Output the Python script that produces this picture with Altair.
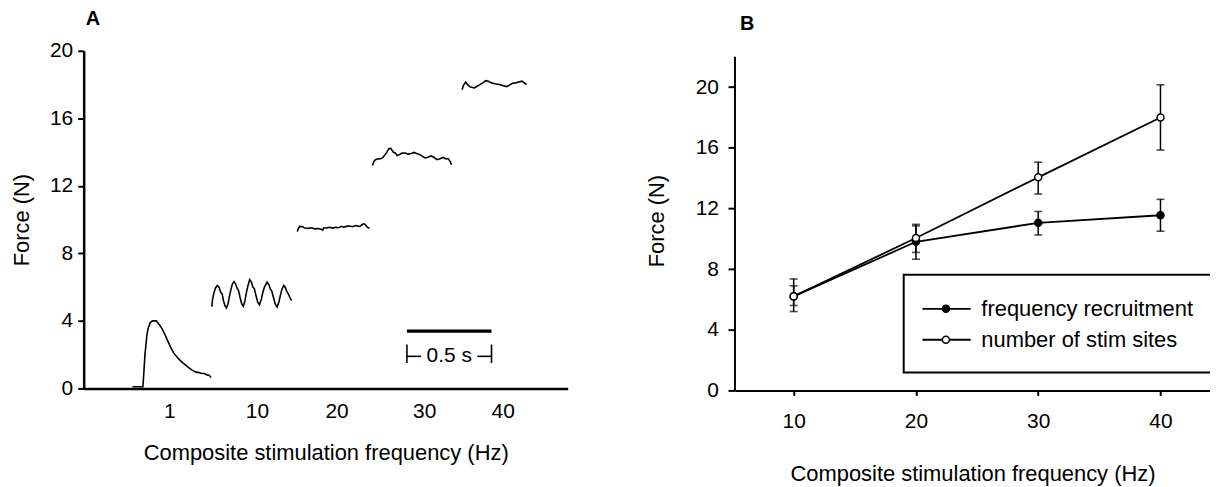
import json
import altair as alt
import pandas as pd

FONT = "Liberation Sans, Arial, Helvetica, sans-serif"

# ---------------- Panel A: force traces (time in s, force in N) ----------------
trace_names = ["1 Hz", "10 Hz", "20 Hz", "30 Hz", "40 Hz"]

t_1 = [0.288, 0.350, 0.356, 0.362, 0.368, 0.374, 0.382, 0.394, 0.406, 0.429,
       0.441, 0.453, 0.465, 0.482, 0.497, 0.518, 0.535, 0.553, 0.571, 0.588,
       0.606, 0.624, 0.641, 0.659, 0.676, 0.694, 0.712, 0.729, 0.741, 0.753]
f_1 = [0.1, 0.1, 1.0, 2.0, 2.6, 3.2, 3.6, 3.9, 4.0, 4.0,
       3.85, 3.7, 3.5, 3.15, 2.8, 2.35, 2.05, 1.85, 1.65, 1.5,
       1.35, 1.2, 1.08, 0.98, 0.95, 0.9, 0.88, 0.8, 0.78, 0.65]

t_10 = [0.757, 0.762, 0.771, 0.779, 0.790, 0.800, 0.809, 0.818, 0.826, 0.835,
        0.843, 0.853, 0.862, 0.871, 0.879, 0.888, 0.897, 0.906, 0.915, 0.924,
        0.934, 0.943, 0.953, 0.962, 0.971, 0.981, 0.991, 1.000, 1.009, 1.018,
        1.029, 1.039, 1.050, 1.059, 1.068, 1.084, 1.094, 1.103, 1.112, 1.121,
        1.132, 1.143, 1.153, 1.162, 1.171, 1.182, 1.191, 1.200, 1.209, 1.218,
        1.228]
f_10 = [4.84, 5.3, 5.7, 5.95, 6.1, 6.0, 5.7, 5.6, 5.2, 4.9,
        4.76, 5.0, 5.5, 5.9, 6.2, 6.33, 6.2, 5.95, 5.8, 5.4,
        5.0, 4.86, 5.2, 5.7, 6.1, 6.45, 6.3, 6.0, 5.9, 5.5,
        5.1, 4.96, 5.3, 5.7, 6.0, 6.3, 6.15, 5.9, 5.75, 5.4,
        5.0, 4.82, 5.1, 5.5, 5.85, 6.1, 6.0, 5.75, 5.6, 5.4,
        5.2]

t_20 = [1.262, 1.268, 1.276, 1.294, 1.306, 1.329, 1.347, 1.365, 1.382, 1.400,
        1.412, 1.418, 1.435, 1.453, 1.471, 1.488, 1.506, 1.524, 1.535, 1.553,
        1.571, 1.588, 1.606, 1.624, 1.635, 1.647, 1.659, 1.668, 1.676, 1.689]
f_20 = [9.3, 9.45, 9.6, 9.58, 9.5, 9.48, 9.52, 9.45, 9.47, 9.44,
        9.38, 9.5, 9.5, 9.55, 9.5, 9.55, 9.52, 9.6, 9.55, 9.6,
        9.62, 9.58, 9.65, 9.6, 9.62, 9.72, 9.75, 9.65, 9.55, 9.48]

t_30 = [1.706, 1.715, 1.724, 1.741, 1.759, 1.774, 1.791, 1.803, 1.815, 1.829,
        1.841, 1.853, 1.865, 1.882, 1.900, 1.918, 1.935, 1.953, 1.971, 1.988,
        2.006, 2.018, 2.035, 2.053, 2.071, 2.088, 2.106, 2.124, 2.141, 2.153,
        2.165, 2.174]
f_30 = [13.2, 13.45, 13.55, 13.6, 13.62, 13.75, 13.98, 14.2, 14.22, 14.0,
        13.95, 13.8, 13.85, 13.95, 13.95, 13.88, 13.92, 13.98, 13.9, 13.85,
        13.72, 13.65, 13.7, 13.78, 13.68, 13.55, 13.6, 13.68, 13.6, 13.62,
        13.45, 13.25]

t_40 = [2.236, 2.244, 2.257, 2.268, 2.286, 2.309, 2.324, 2.342, 2.359, 2.376,
        2.391, 2.410, 2.429, 2.455, 2.476, 2.500, 2.518, 2.534, 2.553, 2.571,
        2.590, 2.603, 2.617]
f_40 = [17.7, 17.95, 18.15, 18.0, 17.85, 17.8, 17.9, 18.0, 18.1, 18.23,
        18.2, 18.1, 18.05, 18.0, 17.95, 17.88, 17.98, 18.08, 18.1, 18.15,
        18.2, 18.1, 17.99]

a_tick_pos = [0.506, 1.024, 1.494, 2.012, 2.476]
a_tick_lab = ["1", "10", "20", "30", "40"]
a_y_ticks = [0, 4, 8, 12, 16, 20]

# scale bar (0.5 s)
bar_start = 1.910
bar_len = 0.5
bar_force = 3.4
bar_label = "0.5 s"
brk_force = 1.9
brk_lo = 1.5
brk_hi = 2.6
brk_arm = 0.084

# ---------------- Panel B: mean force vs frequency ----------------
b_freq = [10, 20, 30, 40]
series = ["frequency recruitment", "number of stim sites"]
rec_mean = [6.2, 9.8, 11.05, 11.55]
rec_lo = [5.6, 8.65, 10.25, 10.5]
rec_hi = [6.9, 10.85, 11.8, 12.6]
site_mean = [6.2, 10.05, 14.05, 18.0]
site_lo = [5.2, 9.1, 12.95, 15.85]
site_hi = [7.35, 10.95, 15.05, 20.15]
b_y_ticks = [0, 4, 8, 12, 16, 20]
b_y_axis_top = 22            # the drawn y-axis line ends here
b_x_min, b_x_max = 5.2, 44.05
b_y_view_max = 22.394        # view extends a little above the axis line

# legend layout (in panel-B data units)
leg_box = dict(x0=19.0, x1=60.0, y0=1.18, y1=7.63)
leg_rows = [5.38, 3.34]
leg_line = (20.53, 24.48)
leg_mark = 22.45
leg_text = 25.35

# ---------------- build tables ----------------
rows = []
for name, ts, fs in zip(trace_names, [t_1, t_10, t_20, t_30, t_40],
                        [f_1, f_10, f_20, f_30, f_40]):
    for t, f in zip(ts, fs):
        rows.append({"trace": name, "t": t, "F": f})
df_a = pd.DataFrame(rows)

df_bar = pd.DataFrame([{"t0": bar_start, "t1": bar_start + bar_len, "F": bar_force}])
df_brk_v = pd.DataFrame([{"t": bar_start, "lo": brk_lo, "hi": brk_hi},
                         {"t": bar_start + bar_len, "lo": brk_lo, "hi": brk_hi}])
df_brk_h = pd.DataFrame([{"t0": bar_start, "t1": bar_start + brk_arm, "F": brk_force},
                         {"t0": bar_start + bar_len - brk_arm, "t1": bar_start + bar_len, "F": brk_force}])
df_brk_t = pd.DataFrame([{"t": bar_start + bar_len / 2, "F": brk_force, "label": bar_label}])

brows = []
for s, m, lo, hi in [(series[0], rec_mean, rec_lo, rec_hi), (series[1], site_mean, site_lo, site_hi)]:
    for x, a, b, c in zip(b_freq, m, lo, hi):
        brows.append({"series": s, "freq": x, "force": a, "lo": b, "hi": c})
df_b = pd.DataFrame(brows)

df_leg = pd.DataFrame([{"series": s, "ly": y, "lx0": leg_line[0], "lx1": leg_line[1],
                        "mx": leg_mark, "tx": leg_text} for s, y in zip(series, leg_rows)])
df_box = pd.DataFrame([leg_box])
df_yline = pd.DataFrame([{"x": b_x_min, "y0": 0, "y1": b_y_axis_top}])

# ---------------- Panel A chart ----------------
label_expr = "{}[indexof({}, datum.value)]".format(json.dumps(a_tick_lab), json.dumps(a_tick_pos))
a_xscale = alt.Scale(domain=[0, 2.86], nice=False, zero=False)
a_yscale = alt.Scale(domain=[0, 20], nice=False)
a_xaxis = alt.Axis(values=a_tick_pos, labelExpr=label_expr, ticks=False, tickSize=0,
                   labelPadding=12, labelFontSize=21, labelOverlap=False, labelFlush=False,
                   title="Composite stimulation frequency (Hz)", titleFontSize=22, titlePadding=21.5,
                   domainWidth=2.5, domainColor="black")
a_yaxis = alt.Axis(values=a_y_ticks, tickSize=6, tickWidth=2, tickColor="black",
                   labelPadding=5, labelFontSize=21, title="Force (N)", titleFontSize=22,
                   titlePadding=15.6, domainWidth=2.5, domainColor="black")

def ax(field):
    return alt.X(field, type="quantitative", scale=a_xscale, axis=a_xaxis)

def ay(field):
    return alt.Y(field, type="quantitative", scale=a_yscale, axis=a_yaxis)

traces = alt.Chart(df_a).mark_line(color="black", strokeWidth=1.6).encode(
    x=ax("t"), y=ay("F"), detail="trace:N", order="t:Q")
bar = alt.Chart(df_bar).mark_rule(color="black", strokeWidth=3.3).encode(
    x=ax("t0"), x2="t1", y=ay("F"))
brk_v = alt.Chart(df_brk_v).mark_rule(color="black", strokeWidth=1.6).encode(
    x=ax("t"), y=ay("lo"), y2="hi")
brk_h = alt.Chart(df_brk_h).mark_rule(color="black", strokeWidth=1.6).encode(
    x=ax("t0"), x2="t1", y=ay("F"))
brk_t = alt.Chart(df_brk_t).mark_text(font=FONT, fontSize=21, color="black",
                                      align="center", baseline="middle").encode(
    x=ax("t"), y=ay("F"), text="label:N")

panel_a = alt.layer(traces, bar, brk_v, brk_h, brk_t).properties(
    width=486, height=339,
    title=alt.TitleParams("A", anchor="start", frame="group", dx=2, offset=11,
                          fontSize=20, fontWeight="bold", font=FONT, color="black"))

# ---------------- Panel B chart ----------------
b_xscale = alt.Scale(domain=[b_x_min, b_x_max], nice=False, zero=False)
b_yscale = alt.Scale(domain=[0, b_y_view_max], nice=False)
b_xaxis = alt.Axis(values=b_freq, tickSize=5, tickWidth=2, tickColor="black",
                   labelPadding=15.7, labelFontSize=21, labelFlush=False,
                   title="Composite stimulation frequency (Hz)", titleFontSize=22, titlePadding=32,
                   domainWidth=2, domainColor="black")
b_yaxis = alt.Axis(values=b_y_ticks, tickSize=7, tickWidth=2, tickColor="black",
                   labelPadding=9.6, labelFontSize=21, title="Force (N)", titleFontSize=22,
                   titlePadding=27.3, domain=False)

def bx(field):
    return alt.X(field, type="quantitative", scale=b_xscale, axis=b_xaxis)

def by(field):
    return alt.Y(field, type="quantitative", scale=b_yscale, axis=b_yaxis)

fill_scale = alt.Scale(domain=series, range=["black", "white"])

yline = alt.Chart(df_yline).mark_rule(color="black", strokeWidth=2).encode(
    x=bx("x"), y=by("y0"), y2="y1")
box = alt.Chart(df_box).mark_rect(fill="white", fillOpacity=0, stroke="black", strokeWidth=2,
                                  clip=True).encode(x=bx("x0"), x2="x1", y=by("y0"), y2="y1")
lines = alt.Chart(df_b).mark_line(color="black", strokeWidth=1.8).encode(
    x=bx("freq"), y=by("force"), detail="series:N")
err = alt.Chart(df_b).mark_rule(color="black", strokeWidth=1.5).encode(
    x=bx("freq"), y=by("lo"), y2="hi")
cap_lo = alt.Chart(df_b).mark_tick(color="black", orient="horizontal", size=8, thickness=1.6).encode(
    x=bx("freq"), y=by("lo"))
cap_hi = alt.Chart(df_b).mark_tick(color="black", orient="horizontal", size=8, thickness=1.6).encode(
    x=bx("freq"), y=by("hi"))
pts = alt.Chart(df_b).mark_point(shape="circle", filled=True, size=50, stroke="black",
                                 strokeWidth=1.5, opacity=1).encode(
    x=bx("freq"), y=by("force"), fill=alt.Fill("series:N", scale=fill_scale, legend=None))
leg_l = alt.Chart(df_leg).mark_rule(color="black", strokeWidth=1.8).encode(
    x=bx("lx0"), x2="lx1", y=by("ly"))
leg_p = alt.Chart(df_leg).mark_point(shape="circle", filled=True, size=50, stroke="black",
                                     strokeWidth=1.5, opacity=1).encode(
    x=bx("mx"), y=by("ly"), fill=alt.Fill("series:N", scale=fill_scale, legend=None))
leg_t = alt.Chart(df_leg).mark_text(font=FONT, fontSize=22, color="black", align="left",
                                    baseline="middle").encode(
    x=bx("tx"), y=by("ly"), text="series:N")

panel_b = alt.layer(yline, box, lines, err, cap_lo, cap_hi, pts, leg_l, leg_p, leg_t).properties(
    width=477, height=341,
    title=alt.TitleParams("B", anchor="start", frame="group", dx=5, offset=17.2,
                          fontSize=20, fontWeight="bold", font=FONT, color="black"))

chart = alt.hconcat(panel_a, panel_b, spacing=77).properties(
    padding={"left": 3, "top": 0, "right": 0, "bottom": 0},
    background="white",
).configure_axis(
    labelFont=FONT, titleFont=FONT, labelColor="black", titleColor="black",
    titleFontWeight="normal", grid=False,
).configure_view(stroke=None)

chart.save("out.html", embed_options={"renderer": "svg", "actions": False})
